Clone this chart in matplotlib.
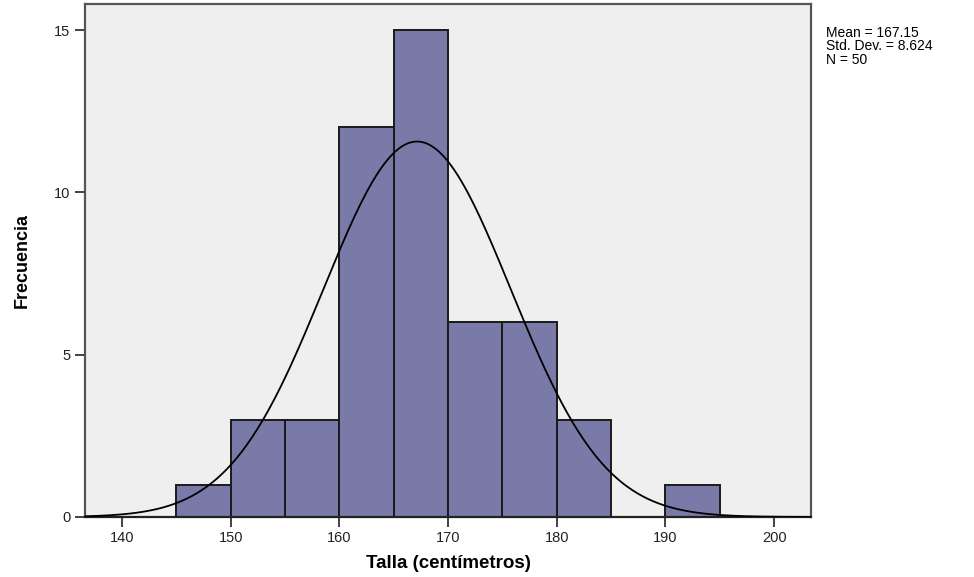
from matplotlib import pyplot as plt
import numpy as np

# histogram of heights
bin_edges = [145, 150, 155, 160, 165, 170, 175, 180, 185, 190, 195]
counts = [1, 3, 3, 12, 15, 6, 6, 3, 0, 1]
mean = 167.15
std = 8.624
n = 50
x_ticks = [140, 150, 160, 170, 180, 190, 200]
y_ticks = [0, 5, 10, 15]

plt.rcParams['font.family'] = ['Liberation Sans', 'DejaVu Sans']

fig = plt.figure(figsize=(9.74, 5.77), dpi=100)
ax = fig.add_axes([0.0873, 0.104, 0.7454, 0.889])
ax.set_facecolor('#efefef')

widths = np.diff(bin_edges)
ax.bar(bin_edges[:-1], counts, width=widths, align='edge',
       color='#7a7aa9', edgecolor='#1a1a1a', linewidth=1.4, zorder=2)

# normal curve scaled to counts
t = np.linspace(136.6, 203.4, 400)
bw = 5
y = n * bw / (std * np.sqrt(2 * np.pi)) * np.exp(-0.5 * ((t - mean) / std) ** 2)
ax.plot(t, y, color='black', linewidth=1.3, zorder=3)

ax.set_xlim(136.6, 203.4)
ax.set_ylim(0, 15.8)
ax.set_xticks(x_ticks)
ax.set_yticks(y_ticks)
ax.tick_params(axis='both', labelsize=10.5, colors='#222222', length=7, width=1.2)
ax.tick_params(axis='x', pad=3)

for s in ax.spines.values():
    s.set_color('#555555')
    s.set_linewidth(1.6)
ax.spines['bottom'].set_color('#222222')

ax.set_xlabel('Talla (centímetros)', fontsize=13.5, fontweight='bold', labelpad=7)
ax.set_ylabel('Frecuencia', fontsize=13, fontweight='bold', labelpad=17)

fig.text(0.848, 0.955, f"Mean = {mean}\nStd. Dev. = {std}\nN = {n}",
         fontsize=10, va='top', ha='left', linespacing=0.95)

plt.savefig('out.png', dpi=100)
